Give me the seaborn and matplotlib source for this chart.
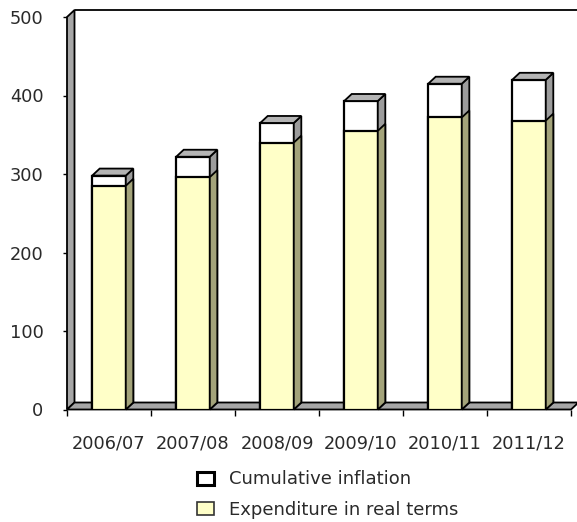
import pandas as pd
import seaborn as sns
import matplotlib.pyplot as plt
from matplotlib.patches import Polygon, Patch
from matplotlib.lines import Line2D

# Spending by year, split into real-terms expenditure and the cumulative inflation on top
years = ["2006/07", "2007/08", "2008/09", "2009/10", "2010/11", "2011/12"]
real_terms = [285, 296, 340, 355, 372, 368]
inflation = [13, 26, 25, 38, 43, 52]
y_ticks = [0, 100, 200, 300, 400, 500]

totals = [r + i for r, i in zip(real_terms, inflation)]
df = pd.DataFrame({"year": years, "real": real_terms, "total": totals})

sns.set_theme(style="white")
plt.rcParams["font.family"] = ["DejaVu Sans"]

YELLOW = "#FFFFC8"
YELLOW_SIDE = "#A3A37A"
WHITE_SIDE = "#9C9C9C"
TOP_FACE = "#B4B4B4"
WALL = "#A6A6A6"
TEXT = "#2A2A2A"

W, H = 577, 522
fig = plt.figure(figsize=(W / 100, H / 100), dpi=100)
ax_left, ax_right, ax_bottom, ax_top = 67, 571, 409.5, 17
ax = fig.add_axes([ax_left / W, (H - ax_bottom) / H,
                   (ax_right - ax_left) / W, (ax_bottom - ax_top) / H])

# stacked bars: full height in white, real-terms part drawn over it in yellow
sns.barplot(data=df, x="year", y="total", color="white", saturation=1,
            edgecolor="black", linewidth=1.6, width=0.4, ax=ax, zorder=3)
total_bars = list(ax.patches)
sns.barplot(data=df, x="year", y="real", color=YELLOW, saturation=1,
            edgecolor="black", linewidth=1.6, width=0.4, ax=ax, zorder=4)
real_bars = [p for p in ax.patches if p not in total_bars]

ax.set_xlim(-0.5, len(years) - 0.5)
ax.set_ylim(0, 500)
ax.set_xlabel("")
ax.set_ylabel("")

# depth of the 3D extrusion (pixels converted to data units)
px_per_x = (ax_right - ax_left) / len(years)
px_per_y = (ax_bottom - ax_top) / 500
ddx = 7.5 / px_per_x
ddy = 7.0 / px_per_y

x_lo, x_hi = -0.5, len(years) - 0.5

# left wall and floor
ax.add_patch(Polygon([(x_lo, 0), (x_lo, 500), (x_lo + ddx, 500 + ddy), (x_lo + ddx, ddy)],
                     closed=True, facecolor=WALL, edgecolor="black", linewidth=1.3,
                     clip_on=False, zorder=1))
ax.add_patch(Polygon([(x_lo, 0), (x_hi, 0), (x_hi + ddx, ddy), (x_lo + ddx, ddy)],
                     closed=True, facecolor=WALL, edgecolor="black", linewidth=1.3,
                     clip_on=False, zorder=1))
ax.add_line(Line2D([x_lo + ddx, x_hi + 2 * ddx], [500 + ddy, 500 + ddy], color="black",
                   linewidth=1.3, clip_on=False, zorder=1))


def extrude(p, side_color, z, top):
    x0, y0 = p.get_x(), p.get_y()
    x1, y1 = x0 + p.get_width(), y0 + p.get_height()
    ax.add_patch(Polygon([(x1, y0), (x1 + ddx, y0 + ddy), (x1 + ddx, y1 + ddy), (x1, y1)],
                         closed=True, facecolor=side_color, edgecolor="black", linewidth=1.3,
                         joinstyle="miter", clip_on=False, zorder=z))
    if top:
        ax.add_patch(Polygon([(x0, y1), (x0 + ddx, y1 + ddy), (x1 + ddx, y1 + ddy), (x1, y1)],
                             closed=True, facecolor=TOP_FACE, edgecolor="black", linewidth=1.3,
                             joinstyle="miter", clip_on=False, zorder=z))


for p in total_bars:
    extrude(p, WHITE_SIDE, 3, True)
for p in real_bars:
    extrude(p, YELLOW_SIDE, 4, False)

for s in ax.spines.values():
    s.set_visible(False)
ax.grid(False)

ax.set_yticks(y_ticks)
ax.set_yticklabels([str(v) for v in y_ticks])
ax.tick_params(axis="y", direction="out", length=3, width=1, color="black",
               pad=14, labelsize=12.8, labelcolor=TEXT, left=True)
ax.set_xticks(range(len(years)))
ax.set_xticklabels(years)
ax.set_xticks([k - 0.5 for k in range(len(years) + 1)], minor=True)
ax.tick_params(axis="x", which="major", length=0, pad=18, labelsize=12.8, labelcolor=TEXT)
ax.tick_params(axis="x", which="minor", direction="out", length=4.5, width=1,
               color="black", bottom=True)

handles = [Patch(facecolor="white", edgecolor="black", linewidth=2.2, label="Cumulative inflation"),
           Patch(facecolor=YELLOW, edgecolor="#333333", linewidth=1.2, label="Expenditure in real terms")]
fig.legend(handles=handles, loc="upper left", bbox_to_anchor=(197 / W, (H - 470.5) / H),
           frameon=False, fontsize=13, handlelength=0.95, handleheight=0.7,
           handletextpad=0.8, labelspacing=0.67, borderpad=0, borderaxespad=0,
           labelcolor=TEXT)

fig.savefig("out.png", dpi=100)
